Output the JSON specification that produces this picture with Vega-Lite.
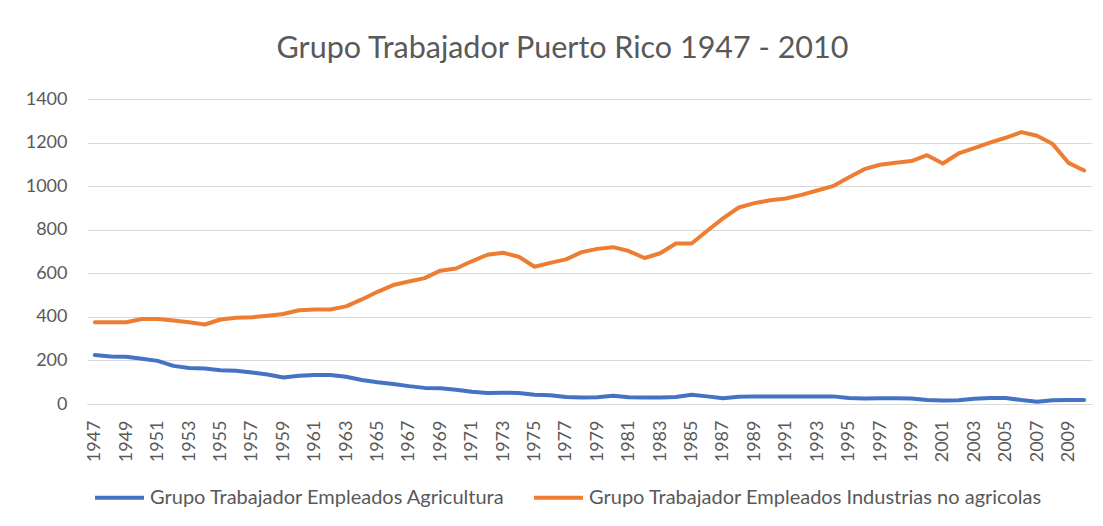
{
  "$schema": "https://vega.github.io/schema/vega-lite/v6.json",
  "autosize": "none",
  "width": 1005,
  "height": 305,
  "padding": {"left": 87, "top": 99, "right": 11, "bottom": 122},
  "background": "white",
  "title": {
    "text": "Grupo Trabajador Puerto Rico 1947 - 2010",
    "anchor": "middle",
    "frame": "group",
    "dx": -27,
    "offset": 26,
    "font": "Lato",
    "fontSize": 30.5,
    "fontWeight": "normal",
    "color": "#595959"
  },
  "data": {
    "values": [
      {"year": "1947", "a": 225, "b": 375},
      {"year": "1948", "a": 218, "b": 375},
      {"year": "1949", "a": 217, "b": 375},
      {"year": "1950", "a": 208, "b": 390},
      {"year": "1951", "a": 198, "b": 390},
      {"year": "1952", "a": 175, "b": 383},
      {"year": "1953", "a": 165, "b": 375},
      {"year": "1954", "a": 163, "b": 365},
      {"year": "1955", "a": 155, "b": 388},
      {"year": "1956", "a": 153, "b": 396},
      {"year": "1957", "a": 145, "b": 398},
      {"year": "1958", "a": 135, "b": 405},
      {"year": "1959", "a": 122, "b": 413},
      {"year": "1960", "a": 130, "b": 430},
      {"year": "1961", "a": 133, "b": 434},
      {"year": "1962", "a": 133, "b": 434},
      {"year": "1963", "a": 125, "b": 448},
      {"year": "1964", "a": 110, "b": 480},
      {"year": "1965", "a": 100, "b": 515},
      {"year": "1966", "a": 92, "b": 546},
      {"year": "1967", "a": 82, "b": 562},
      {"year": "1968", "a": 74, "b": 578},
      {"year": "1969", "a": 72, "b": 612},
      {"year": "1970", "a": 65, "b": 622},
      {"year": "1971", "a": 56, "b": 655},
      {"year": "1972", "a": 50, "b": 685},
      {"year": "1973", "a": 52, "b": 694},
      {"year": "1974", "a": 50, "b": 676},
      {"year": "1975", "a": 42, "b": 630},
      {"year": "1976", "a": 40, "b": 648},
      {"year": "1977", "a": 32, "b": 664},
      {"year": "1978", "a": 30, "b": 697},
      {"year": "1979", "a": 31, "b": 712},
      {"year": "1980", "a": 38, "b": 720},
      {"year": "1981", "a": 31, "b": 702},
      {"year": "1982", "a": 30, "b": 670},
      {"year": "1983", "a": 30, "b": 692},
      {"year": "1984", "a": 32, "b": 737},
      {"year": "1985", "a": 42, "b": 737},
      {"year": "1986", "a": 35, "b": 795},
      {"year": "1987", "a": 26, "b": 852},
      {"year": "1988", "a": 33, "b": 902},
      {"year": "1989", "a": 35, "b": 922},
      {"year": "1990", "a": 35, "b": 935},
      {"year": "1991", "a": 35, "b": 943},
      {"year": "1992", "a": 35, "b": 960},
      {"year": "1993", "a": 35, "b": 980},
      {"year": "1994", "a": 35, "b": 1000},
      {"year": "1995", "a": 28, "b": 1040},
      {"year": "1996", "a": 25, "b": 1078},
      {"year": "1997", "a": 26, "b": 1098},
      {"year": "1998", "a": 26, "b": 1107},
      {"year": "1999", "a": 25, "b": 1115},
      {"year": "2000", "a": 18, "b": 1142},
      {"year": "2001", "a": 16, "b": 1104},
      {"year": "2002", "a": 17, "b": 1150},
      {"year": "2003", "a": 24, "b": 1175},
      {"year": "2004", "a": 28, "b": 1200},
      {"year": "2005", "a": 28, "b": 1222},
      {"year": "2006", "a": 18, "b": 1248},
      {"year": "2007", "a": 10, "b": 1231},
      {"year": "2008", "a": 17, "b": 1193},
      {"year": "2009", "a": 18, "b": 1107},
      {"year": "2010", "a": 18, "b": 1072}
    ]
  },
  "transform": [
    {"fold": ["a", "b"], "as": ["key", "value"]}
  ],
  "mark": {"type": "line", "strokeWidth": 4, "strokeCap": "round", "strokeJoin": "round"},
  "encoding": {
    "x": {
      "field": "year",
      "type": "ordinal",
      "scale": {"type": "point", "padding": 0.5},
      "axis": {
        "title": null,
        "values": ["1947","1949","1951","1953","1955","1957","1959","1961","1963","1965","1967","1969","1971","1973","1975","1977","1979","1981","1983","1985","1987","1989","1991","1993","1995","1997","1999","2001","2003","2005","2007","2009"],
        "labelAngle": -90,
        "ticks": false,
        "domain": true,
        "domainColor": "#d9d9d9",
        "grid": false,
        "labelPadding": 16,
        "labelFont": "Lato",
        "labelFontSize": 18,
        "labelColor": "#595959"
      }
    },
    "y": {
      "field": "value",
      "type": "quantitative",
      "scale": {"domain": [0, 1400], "nice": false},
      "axis": {
        "title": null,
        "values": [0, 200, 400, 600, 800, 1000, 1200, 1400],
        "format": "d",
        "ticks": false,
        "domain": false,
        "grid": true,
        "gridColor": "#d9d9d9",
        "gridWidth": 1,
        "labelPadding": 20,
        "labelFont": "Lato",
        "labelFontSize": 18,
        "labelColor": "#595959"
      }
    },
    "color": {
      "field": "key",
      "type": "nominal",
      "scale": {"domain": ["a", "b"], "range": ["#4472C4", "#ED7D31"]},
      "legend": {
        "title": null,
        "orient": "none",
        "direction": "horizontal",
        "legendX": 6,
        "legendY": 372,
        "symbolType": "stroke",
        "symbolSize": 2401,
        "symbolStrokeWidth": 4,
        "labelOffset": 4,
        "columnPadding": 20,
        "labelFont": "Lato",
        "labelFontSize": 20,
        "labelColor": "#595959",
        "labelLimit": 700,
        "labelExpr": "datum.value == 'a' ? 'Grupo Trabajador Empleados Agricultura' : 'Grupo Trabajador Empleados Industrias no agricolas'"
      }
    }
  },
  "config": {"view": {"stroke": null}}
}
